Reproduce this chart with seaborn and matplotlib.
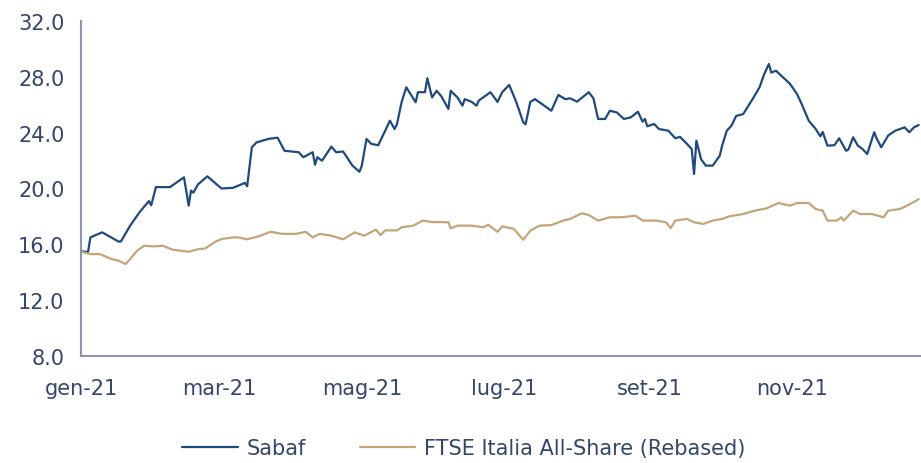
import matplotlib
matplotlib.use("Agg")
import matplotlib.pyplot as plt
import matplotlib.dates as mdates
import seaborn as sns
import pandas as pd

# Sabaf share price (EUR)
sabaf_dates = [
    "2021-01-01", "2021-01-04", "2021-01-05", "2021-01-10", "2021-01-17", "2021-01-18",
    "2021-01-22", "2021-01-26", "2021-01-30", "2021-01-31", "2021-02-02", "2021-02-08",
    "2021-02-14", "2021-02-16", "2021-02-17", "2021-02-18", "2021-02-20", "2021-02-24",
    "2021-03-02", "2021-03-07", "2021-03-12", "2021-03-13", "2021-03-15", "2021-03-17",
    "2021-03-22", "2021-03-26", "2021-03-29", "2021-04-04", "2021-04-06", "2021-04-10",
    "2021-04-11", "2021-04-12", "2021-04-14", "2021-04-18", "2021-04-20", "2021-04-23",
    "2021-04-27", "2021-04-30", "2021-05-01", "2021-05-03", "2021-05-05", "2021-05-08",
    "2021-05-11", "2021-05-13", "2021-05-15", "2021-05-16", "2021-05-18", "2021-05-20",
    "2021-05-24", "2021-05-25", "2021-05-28", "2021-05-29", "2021-05-31", "2021-06-02",
    "2021-06-04", "2021-06-07", "2021-06-08", "2021-06-11", "2021-06-13", "2021-06-14",
    "2021-06-17", "2021-06-19", "2021-06-20", "2021-06-25", "2021-06-28", "2021-06-30",
    "2021-07-03", "2021-07-06", "2021-07-09", "2021-07-10", "2021-07-12", "2021-07-14",
    "2021-07-17", "2021-07-21", "2021-07-24", "2021-07-27", "2021-07-29", "2021-08-01",
    "2021-08-06", "2021-08-08", "2021-08-10", "2021-08-13", "2021-08-15", "2021-08-18",
    "2021-08-21", "2021-08-24", "2021-08-27", "2021-08-29", "2021-08-30", "2021-08-31",
    "2021-09-03", "2021-09-05", "2021-09-09", "2021-09-12", "2021-09-14", "2021-09-17",
    "2021-09-19", "2021-09-20", "2021-09-21", "2021-09-23", "2021-09-25", "2021-09-28",
    "2021-10-01", "2021-10-02", "2021-10-04", "2021-10-06", "2021-10-08", "2021-10-11",
    "2021-10-15", "2021-10-18", "2021-10-20", "2021-10-22", "2021-10-23", "2021-10-25",
    "2021-10-28", "2021-10-31", "2021-11-03", "2021-11-05", "2021-11-08", "2021-11-11",
    "2021-11-13", "2021-11-14", "2021-11-16", "2021-11-19", "2021-11-21", "2021-11-24",
    "2021-11-25", "2021-11-27", "2021-11-29", "2021-12-01", "2021-12-03", "2021-12-06",
    "2021-12-07", "2021-12-09", "2021-12-12", "2021-12-15", "2021-12-19", "2021-12-21",
    "2021-12-23", "2021-12-25",
]
sabaf_values = [
    15.5, 15.45, 16.5, 16.86, 16.2, 16.2,
    17.34, 18.3, 19.1, 18.8, 20.1, 20.1,
    20.8, 18.77, 19.85, 19.7, 20.3, 20.87,
    20.0, 20.05, 20.4, 20.16, 22.95, 23.3,
    23.55, 23.64, 22.7, 22.6, 22.24, 22.6,
    21.7, 22.24, 21.99, 23.0, 22.6, 22.65,
    21.64, 21.2, 21.64, 23.55, 23.2, 23.1,
    24.14, 24.86, 24.26, 24.6, 26.18, 27.25,
    26.18, 26.9, 26.9, 27.9, 26.53, 27.0,
    26.6, 25.7, 27.0, 26.5, 25.93, 26.4,
    26.2, 25.93, 26.3, 26.9, 26.2, 26.9,
    27.42, 26.2, 24.74, 24.6, 26.2, 26.4,
    26.05, 25.57, 26.7, 26.4, 26.46, 26.22,
    26.9, 26.46, 24.98, 24.98, 25.57, 25.45,
    24.98, 25.1, 25.5, 24.79, 24.98, 24.46,
    24.62, 24.26, 24.14, 23.6, 23.7, 23.19,
    22.83, 21.04, 23.43, 22.1, 21.64, 21.64,
    22.35, 23.07, 24.14, 24.5, 25.2, 25.33,
    26.4, 27.25, 28.2, 28.92, 28.3, 28.44,
    27.97, 27.5, 26.77, 26.05, 24.86, 24.26,
    23.74, 24.05, 23.07, 23.1, 23.6, 22.7,
    22.8, 23.67, 23.07, 22.83, 22.47, 24.03,
    23.6, 22.95, 23.8, 24.14, 24.38, 24.03,
    24.38, 24.55,
]

# FTSE Italia All-Share, rebased to Sabaf
ftse_dates = [
    "2021-01-01", "2021-01-05", "2021-01-09", "2021-01-14", "2021-01-17", "2021-01-20",
    "2021-01-22", "2021-01-25", "2021-01-28", "2021-02-01", "2021-02-05", "2021-02-09",
    "2021-02-16", "2021-02-20", "2021-02-23", "2021-02-27", "2021-03-02", "2021-03-07",
    "2021-03-09", "2021-03-13", "2021-03-18", "2021-03-23", "2021-03-28", "2021-04-03",
    "2021-04-07", "2021-04-10", "2021-04-13", "2021-04-18", "2021-04-23", "2021-04-28",
    "2021-05-02", "2021-05-07", "2021-05-09", "2021-05-11", "2021-05-16", "2021-05-18",
    "2021-05-23", "2021-05-27", "2021-05-31", "2021-06-07", "2021-06-08", "2021-06-11",
    "2021-06-17", "2021-06-22", "2021-06-24", "2021-06-28", "2021-06-30", "2021-07-05",
    "2021-07-09", "2021-07-12", "2021-07-16", "2021-07-21", "2021-07-26", "2021-07-29",
    "2021-08-03", "2021-08-06", "2021-08-10", "2021-08-15", "2021-08-20", "2021-08-26",
    "2021-08-29", "2021-09-04", "2021-09-08", "2021-09-10", "2021-09-12", "2021-09-17",
    "2021-09-20", "2021-09-24", "2021-09-28", "2021-10-02", "2021-10-05", "2021-10-11",
    "2021-10-16", "2021-10-21", "2021-10-26", "2021-10-31", "2021-11-03", "2021-11-08",
    "2021-11-11", "2021-11-14", "2021-11-16", "2021-11-20", "2021-11-22", "2021-11-23",
    "2021-11-27", "2021-11-30", "2021-12-05", "2021-12-10", "2021-12-12", "2021-12-17",
    "2021-12-20", "2021-12-24", "2021-12-25",
]
ftse_values = [
    15.47, 15.3, 15.3, 14.95, 14.83, 14.59,
    14.95, 15.55, 15.9, 15.85, 15.9, 15.62,
    15.47, 15.65, 15.7, 16.15, 16.38, 16.5,
    16.5, 16.36, 16.58, 16.9, 16.75, 16.75,
    16.9, 16.5, 16.75, 16.62, 16.36, 16.86,
    16.62, 17.05, 16.67, 17.0, 17.0, 17.22,
    17.34, 17.7, 17.6, 17.58, 17.15, 17.34,
    17.34, 17.22, 17.4, 16.9, 17.29, 17.1,
    16.33, 16.98, 17.34, 17.38, 17.7, 17.82,
    18.22, 18.1, 17.7, 17.94, 17.94, 18.05,
    17.7, 17.7, 17.58, 17.17, 17.7, 17.82,
    17.58, 17.46, 17.7, 17.82, 18.0, 18.17,
    18.41, 18.58, 18.96, 18.77, 18.96, 18.96,
    18.53, 18.41, 17.7, 17.7, 17.94, 17.7,
    18.41, 18.17, 18.17, 17.94, 18.41, 18.53,
    18.77, 19.13, 19.25,
]

series_names = ["Sabaf", "FTSE Italia All-Share (Rebased)"]
tick_dates = ["2021-01-01", "2021-03-01", "2021-05-01", "2021-07-01", "2021-09-01", "2021-11-01"]
tick_labels = ["gen-21", "mar-21", "mag-21", "lug-21", "set-21", "nov-21"]
y_ticks = [8, 12, 16, 20, 24, 28, 32]

df = pd.concat([
    pd.DataFrame({"Date": pd.to_datetime(sabaf_dates), "Value": sabaf_values, "Series": series_names[0]}),
    pd.DataFrame({"Date": pd.to_datetime(ftse_dates), "Value": ftse_values, "Series": series_names[1]}),
])

sns.set_style("white")
plt.rcParams["font.family"] = ["DejaVu Sans"]

text_col = "#34466b"
axis_col = "#8d97ab"
sabaf_col = "#1f4a7c"
ftse_col = "#c4a57a"

fig = plt.figure(figsize=(9.21, 4.64), dpi=100)
ax = fig.add_axes([0.088, 0.2306, 0.912, 0.722])

sns.lineplot(data=df, x="Date", y="Value", hue="Series", estimator=None,
             palette={series_names[0]: sabaf_col, series_names[1]: ftse_col},
             linewidth=1.6, ax=ax, legend=False)

ax.set_ylim(8, 32)
ax.set_xlim(pd.Timestamp("2021-01-01"), pd.Timestamp("2021-12-26"))
ax.set_yticks(y_ticks)
ax.set_yticklabels([f"{v:.1f}" for v in y_ticks])
ax.set_xticks(mdates.date2num(pd.to_datetime(tick_dates)))
ax.set_xticklabels(tick_labels)
ax.set_xlabel("")
ax.set_ylabel("")

for side in ["top", "right"]:
    ax.spines[side].set_visible(False)
for side in ["left", "bottom"]:
    ax.spines[side].set_color(axis_col)
    ax.spines[side].set_linewidth(1.5)

ax.tick_params(axis="both", colors=axis_col, labelcolor=text_col, labelsize=15,
               length=6, width=1.2, direction="out")
ax.tick_params(axis="y", pad=6)
ax.tick_params(axis="x", pad=10)
ax.set_facecolor("white")
ax.grid(False)

handles = [plt.Line2D([], [], color=sabaf_col, linewidth=1.6),
           plt.Line2D([], [], color=ftse_col, linewidth=1.6)]
fig.legend(handles, series_names, loc="center left", bbox_to_anchor=(0.198, 0.032),
           ncol=2, frameon=False, fontsize=15, labelcolor=text_col,
           handlelength=2.65, handletextpad=0.43, columnspacing=2.6,
           borderpad=0, borderaxespad=0)

fig.savefig("out.png", dpi=100, facecolor="white")
